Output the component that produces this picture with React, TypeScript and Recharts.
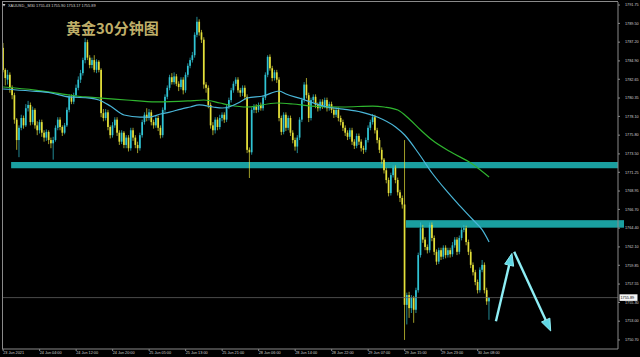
import React from 'react';
import { ComposedChart, Bar, Line, XAxis, YAxis, ReferenceArea, ReferenceLine } from 'recharts';

const symbol = 'XAUUSD,_M30';
const title = '黄金30分钟图';

const xLabels = ['23 Jun 2021', '24 Jun 04:00', '24 Jun 12:00', '24 Jun 20:00', '25 Jun 05:00', '25 Jun 13:00', '25 Jun 21:00', '28 Jun 06:00', '28 Jun 14:00', '28 Jun 22:00', '29 Jun 07:00', '29 Jun 15:00', '29 Jun 23:00', '30 Jun 08:00'];
const xLabelIdx = [0, 16, 32, 48, 64, 80, 96, 112, 128, 144, 160, 176, 192, 208];
const yTicks = [1791.75, 1789.5, 1787.2, 1784.9, 1782.65, 1780.35, 1778.1, 1775.8, 1773.5, 1771.25, 1768.95, 1766.7, 1764.4, 1762.1, 1759.85, 1757.55, 1755.3, 1753.0, 1750.7];
const TOTAL_SLOTS = 270;

const opens = [
  1786.5,1783.8,1782.6,1783.2,1781.6,1780.7,1777.7,1775.2,1776.7,1777.9,
  1777.0,1779.1,1779.5,1777.4,1778.9,1777.0,1776.4,1777.4,1776.1,1775.5,
  1776.2,1775.2,1774.8,1775.2,1776.7,1777.7,1776.8,1776.1,1777.0,1778.9,
  1780.5,1779.9,1780.7,1781.6,1782.6,1783.4,1785.0,1787.2,1785.3,1784.4,
  1785.0,1783.8,1784.8,1783.8,1778.5,1777.9,1778.6,1776.8,1775.8,1777.0,
  1777.7,1776.1,1775.0,1776.1,1774.6,1775.5,1774.2,1776.4,1775.5,1774.6,
  1774.2,1775.8,1777.4,1778.3,1777.9,1778.6,1777.4,1777.0,1777.9,1776.7,
  1775.8,1778.9,1780.5,1781.6,1782.9,1782.3,1783.0,1782.1,1781.7,1782.6,
  1781.3,1783.2,1784.3,1785.0,1785.6,1788.1,1789.7,1788.4,1787.5,1782.0,
  1781.6,1779.5,1777.0,1776.4,1777.7,1776.8,1777.9,1778.3,1777.7,1779.3,
  1780.1,1781.3,1782.1,1782.6,1781.3,1781.0,1781.6,1780.5,1774.0,1773.7,
  1778.9,1779.3,1778.9,1779.5,1779.1,1780.4,1783.2,1785.4,1784.0,1782.8,
  1783.5,1782.6,1777.9,1776.2,1778.3,1776.7,1777.9,1776.1,1775.2,1774.4,
  1775.5,1777.7,1780.1,1782.0,1780.7,1777.9,1780.1,1780.5,1779.5,1779.1,
  1779.9,1779.4,1780.1,1779.1,1779.6,1778.9,1778.3,1778.9,1777.9,1777.4,
  1776.7,1776.1,1775.6,1776.4,1775.0,1774.5,1775.7,1775.0,1774.2,1774.0,
  1775.2,1776.7,1777.4,1778.0,1776.4,1775.2,1774.0,1772.8,1771.5,1770.3,
  1768.7,1770.9,1771.8,1770.3,1768.8,1768.1,1767.3,1755.0,1756.2,1754.6,
  1755.9,1754.4,1756.8,1761.1,1764.4,1763.0,1762.1,1761.7,1764.8,1763.2,
  1761.5,1760.3,1761.7,1760.9,1762.0,1761.1,1761.7,1761.2,1762.3,1763.0,
  1761.5,1763.2,1764.2,1764.4,1762.7,1761.5,1759.9,1759.0,1757.8,1756.8,
  1759.3,1759.9,1756.8,1755.43,
];
const highs = [
  1787.1,1784.0,1783.8,1783.5,1781.9,1781.0,1777.9,1777.0,1778.3,1778.2,
  1779.6,1780.0,1779.8,1779.3,1779.1,1777.5,1777.7,1777.7,1776.4,1776.5,
  1776.4,1775.5,1775.6,1777.0,1778.0,1778.0,1777.0,1777.3,1779.2,1780.8,
  1780.8,1781.0,1782.0,1783.0,1783.8,1785.3,1787.7,1787.5,1785.6,1785.3,
  1785.6,1785.1,1785.0,1784.0,1779.0,1779.0,1778.9,1777.0,1777.4,1778.0,
  1778.0,1776.4,1776.4,1776.3,1775.8,1775.8,1776.7,1776.7,1775.8,1775.0,
  1776.1,1777.7,1778.6,1779.1,1779.0,1778.9,1777.7,1778.2,1778.2,1777.0,
  1779.2,1780.8,1781.9,1783.2,1783.4,1783.5,1783.3,1782.4,1782.9,1782.9,
  1783.5,1784.6,1785.3,1786.0,1788.4,1790.3,1790.0,1788.7,1787.8,1782.3,
  1781.9,1779.8,1777.4,1778.0,1778.0,1778.3,1778.6,1778.6,1779.6,1780.4,
  1781.6,1782.4,1782.9,1782.9,1781.6,1781.9,1781.9,1780.8,1774.3,1779.2,
  1779.6,1779.6,1779.8,1779.8,1780.7,1783.5,1785.6,1785.7,1784.3,1783.8,
  1783.8,1782.9,1778.2,1778.6,1778.6,1778.2,1778.2,1776.4,1775.5,1775.8,
  1778.0,1780.4,1782.3,1782.8,1781.0,1780.4,1780.8,1780.8,1779.8,1780.2,
  1780.2,1780.4,1780.4,1779.9,1779.9,1779.2,1779.2,1779.2,1778.2,1777.7,
  1777.0,1776.4,1776.7,1776.7,1775.3,1776.0,1776.0,1775.3,1774.5,1775.5,
  1777.0,1777.7,1778.4,1778.3,1776.7,1775.5,1774.3,1773.0,1771.8,1770.6,
  1771.2,1772.1,1772.1,1770.6,1769.1,1768.4,1775.2,1756.5,1756.6,1756.2,
  1756.1,1757.1,1761.4,1765.1,1764.8,1763.3,1762.4,1765.1,1765.1,1763.5,
  1761.8,1762.0,1762.0,1762.3,1762.3,1762.0,1762.0,1762.7,1763.3,1763.3,
  1763.5,1764.5,1764.8,1764.7,1763.0,1761.8,1760.2,1759.3,1758.1,1759.6,
  1760.5,1760.2,1757.1,1755.90,
];
const lows = [
  1783.5,1781.9,1782.0,1781.0,1780.2,1777.2,1774.0,1773.1,1776.4,1776.6,
  1776.8,1778.7,1777.0,1777.1,1776.6,1775.8,1776.0,1775.6,1775.0,1775.1,
  1774.7,1774.2,1772.8,1775.0,1776.4,1776.4,1775.7,1775.9,1776.8,1778.6,
  1779.6,1779.6,1780.4,1781.3,1782.2,1783.1,1784.6,1785.0,1784.0,1784.0,
  1783.5,1783.4,1783.5,1778.0,1777.5,1777.6,1776.4,1775.4,1775.5,1776.7,
  1775.7,1774.6,1774.7,1774.2,1774.2,1773.8,1773.9,1775.1,1774.2,1773.6,
  1773.9,1775.5,1777.1,1777.5,1777.6,1777.0,1776.6,1776.7,1776.3,1775.4,
  1775.5,1778.6,1780.2,1781.3,1782.0,1782.0,1781.8,1781.2,1781.4,1780.8,
  1781.0,1782.9,1784.0,1784.7,1785.3,1787.8,1788.0,1787.1,1781.5,1781.0,
  1779.1,1776.6,1775.8,1776.0,1776.4,1776.5,1777.5,1777.3,1777.4,1779.0,
  1779.8,1781.0,1781.8,1781.0,1780.5,1780.6,1780.1,1773.6,1770.55,1773.4,
  1778.5,1778.5,1778.6,1778.8,1778.8,1780.1,1782.9,1783.7,1782.4,1782.5,
  1782.2,1777.5,1775.8,1775.9,1776.3,1776.4,1775.7,1774.8,1773.9,1773.6,
  1775.2,1777.4,1779.8,1780.3,1777.4,1777.6,1779.7,1779.1,1778.7,1778.8,
  1779.0,1779.1,1778.7,1778.8,1778.5,1777.9,1778.0,1777.5,1777.0,1776.3,
  1775.7,1775.2,1775.3,1774.6,1774.1,1774.2,1774.6,1773.8,1773.5,1773.7,
  1774.9,1776.4,1777.1,1776.0,1774.8,1773.6,1772.3,1771.1,1769.9,1768.3,
  1768.4,1770.6,1769.9,1768.4,1767.6,1766.8,1750.7,1752.6,1753.4,1754.0,
  1752.8,1754.0,1756.5,1760.8,1762.6,1761.7,1761.3,1761.4,1762.8,1761.1,
  1759.9,1760.0,1760.5,1760.6,1760.7,1760.8,1760.8,1760.9,1762.0,1761.1,
  1761.2,1762.9,1763.9,1762.3,1761.1,1759.5,1758.6,1757.4,1756.4,1756.5,
  1759.0,1756.4,1755.0,1753.17,
];
const closes = [
  1783.8,1782.8,1783.2,1781.6,1780.7,1777.7,1775.2,1776.7,1777.9,1777.0,
  1779.1,1779.5,1777.4,1778.9,1777.0,1776.4,1777.4,1776.1,1775.5,1776.2,
  1775.2,1774.8,1775.2,1776.7,1777.7,1776.8,1776.1,1777.0,1778.9,1780.5,
  1779.9,1780.7,1781.6,1782.6,1783.4,1785.0,1787.2,1785.3,1784.4,1785.0,
  1783.8,1784.8,1783.8,1778.5,1777.9,1778.6,1776.8,1775.8,1777.0,1777.7,
  1776.1,1775.0,1776.1,1774.6,1775.5,1774.2,1776.4,1775.5,1774.6,1774.2,
  1775.8,1777.4,1778.3,1777.9,1778.6,1777.4,1777.0,1777.9,1776.7,1775.8,
  1778.9,1780.5,1781.6,1782.9,1782.3,1783.0,1782.1,1781.7,1782.6,1781.3,
  1783.2,1784.3,1785.0,1785.6,1788.1,1789.7,1788.4,1787.5,1782.0,1781.6,
  1779.5,1777.0,1776.4,1777.7,1776.8,1777.9,1778.3,1777.7,1779.3,1780.1,
  1781.3,1782.1,1782.6,1781.3,1781.0,1781.6,1780.5,1774.0,1773.7,1778.9,
  1779.3,1778.9,1779.5,1779.1,1780.4,1783.2,1785.4,1784.0,1782.8,1783.5,
  1782.6,1777.9,1776.2,1778.3,1776.7,1777.9,1776.1,1775.2,1774.4,1775.5,
  1777.7,1780.1,1782.0,1780.7,1777.9,1780.1,1780.5,1779.5,1779.1,1779.9,
  1779.4,1780.1,1779.1,1779.6,1778.9,1778.3,1778.9,1777.9,1777.4,1776.7,
  1776.1,1775.6,1776.4,1775.0,1774.5,1775.7,1775.0,1774.2,1774.0,1775.2,
  1776.7,1777.4,1778.0,1776.4,1775.2,1774.0,1772.8,1771.5,1770.3,1768.7,
  1770.9,1771.8,1770.3,1768.8,1768.1,1767.3,1755.0,1756.2,1754.6,1755.9,
  1754.4,1756.8,1761.1,1764.4,1763.0,1762.1,1761.7,1764.8,1763.2,1761.5,
  1760.3,1761.7,1760.9,1762.0,1761.1,1761.7,1761.2,1762.3,1763.0,1761.5,
  1763.2,1764.2,1764.4,1762.7,1761.5,1759.9,1759.0,1757.8,1756.8,1759.3,
  1759.9,1756.8,1755.43,1755.89,
];

const maFastIdx = [0,12,21,29,38,42,47,53,60,64,69,73,78,82,86,92,96,99,103,107,114,121,124,131,136,142,149,157,164,172,176,182,188,194,199,206,210,213];
const maFastVal = [1781.46,1781.21,1780.97,1780.48,1780.35,1780.11,1779.37,1778.27,1778.02,1778.02,1778.39,1778.63,1779.0,1779.25,1779.5,1779.25,1779.13,1779.25,1779.74,1780.35,1780.6,1781.21,1780.84,1780.23,1779.74,1779.25,1779.0,1778.63,1778.02,1776.8,1775.82,1773.61,1771.16,1769.08,1767.49,1765.4,1764.18,1762.71];
const maSlowIdx = [0,14,29,36,43,54,67,81,88,95,99,107,120,127,135,149,162,167,173,178,183,188,197,205,213];
const maSlowVal = [1781.7,1781.33,1780.72,1780.48,1780.35,1780.11,1779.87,1779.99,1780.11,1779.74,1779.5,1779.25,1779.74,1779.62,1779.37,1779.25,1779.37,1779.25,1778.88,1777.78,1776.43,1775.2,1773.61,1772.39,1770.67];

// horizontal zones
const zoneA = { from: 4, lo: 1771.74, hi: 1772.51 };
const zoneB = { from: 177, lo: 1764.46, hi: 1765.38 };

// forecast arrows
const arrowUp = { i1: 216, p1: 1753.0, i2: 223, p2: 1761.3 };
const arrowDown = { i1: 224, p1: 1761.5, i2: 240, p2: 1751.8 };

const lastPrice = closes[closes.length - 1];

const YELLOW = '#e4e03a';
const AQUA = '#30c4d4';
const FAST = '#4ab6d8';
const SLOW = '#2fb52f';
const ZONE = '#1a9fa0';
const ARROW = '#8eeef5';
const AXIS = '#8a8a8a';
const TEXT = '#cfcfcf';
const FONT = '"Liberation Sans", Arial, sans-serif';

const rows = Array.from({ length: TOTAL_SLOTS }, (_, i) => {
  const r: any = { i };
  if (i < closes.length) {
    r.range = [lows[i], highs[i]];
    r.o = opens[i];
    r.h = highs[i];
    r.l = lows[i];
    r.c = closes[i];
  }
  const fi = maFastIdx.indexOf(i);
  if (fi >= 0) r.fast = maFastVal[fi];
  const si = maSlowIdx.indexOf(i);
  if (si >= 0) r.slow = maSlowVal[si];
  return r;
});

const Candle = (props: any) => {
  const { x, y, width, height, payload } = props;
  if (!payload || payload.c == null) return null;
  const { o, h, l, c } = payload;
  const top = height >= 0 ? y : y + height;
  const hh = Math.abs(height);
  const k = h - l > 0 ? hh / (h - l) : 0;
  const bTop = top + (h - Math.max(o, c)) * k;
  const bBot = top + (h - Math.min(o, c)) * k;
  const color = c >= o ? AQUA : YELLOW;
  const cx = x + width / 2;
  const bw = Math.max(1, width * 0.85);
  return (
    <g>
      <line x1={cx} x2={cx} y1={top} y2={top + hh} stroke={color} strokeWidth={0.7} />
      <rect x={cx - bw / 2} y={bTop} width={bw} height={Math.max(0.7, bBot - bTop)} fill={color} />
    </g>
  );
};

const ArrowShape = (p: any) => {
  const { x1, y1, x2, y2 } = p;
  if ([x1, y1, x2, y2].some((v) => v == null || isNaN(v))) return null;
  const ang = Math.atan2(y2 - y1, x2 - x1);
  const L = 12;
  const W = 4.6;
  const bx = x2 - L * Math.cos(ang);
  const by = y2 - L * Math.sin(ang);
  const px = -Math.sin(ang) * W;
  const py = Math.cos(ang) * W;
  return (
    <g>
      <line x1={x1} y1={y1} x2={bx} y2={by} stroke={ARROW} strokeWidth={2.4} />
      <polygon points={`${x2},${y2} ${bx + px},${by + py} ${bx - px},${by - py}`} fill="#5fd6e4" stroke={ARROW} strokeWidth={1} />
    </g>
  );
};

const XTick = (props: any) => {
  const { x, y, payload } = props;
  const k = xLabelIdx.indexOf(payload.value);
  return (
    <text x={x} y={y} dy={3.3} fontSize={3.8} fill={TEXT} textAnchor="start" fontFamily={FONT}>
      {k >= 0 ? xLabels[k] : ''}
    </text>
  );
};

const YTick = (props: any) => {
  const { x, y, payload } = props;
  return (
    <text x={x} y={y} dy={1.3} fontSize={3.8} fill={TEXT} textAnchor="start" fontFamily={FONT}>
      {Number(payload.value).toFixed(2)}
    </text>
  );
};

const PriceLabel = (props: any) => {
  const vb = props.viewBox || {};
  const xr = (vb.x || 0) + (vb.width || 0);
  const yy = vb.y || 0;
  return (
    <g>
      <rect x={xr + 1.5} y={yy - 3.3} width={18} height={6.6} fill="#f4f4f4" />
      <text x={xr + 2.5} y={yy + 1.4} fontSize={3.8} fill="#000" fontFamily={FONT}>
        {lastPrice.toFixed(2)}
      </text>
    </g>
  );
};

export default function App() {
  return (
    <div style={{ position: 'absolute', left: 0, top: 0, width: 640, height: 357, background: '#000', overflow: 'hidden' }}>
      <ComposedChart
        width={640}
        height={357}
        data={rows}
        margin={{ top: 2, right: 0, bottom: 0, left: 2 }}
        barCategoryGap={0}
        barGap={0}
      >
        <XAxis
          dataKey="i"
          type="category"
          ticks={xLabelIdx}
          interval={0}
          tick={<XTick />}
          tickSize={2}
          tickMargin={0}
          height={8}
          axisLine={{ stroke: AXIS }}
          tickLine={{ stroke: AXIS }}
        />
        <YAxis
          orientation="right"
          type="number"
          domain={[1749.59, 1792.12]}
          allowDataOverflow
          ticks={yTicks}
          interval={0}
          width={22}
          tick={<YTick />}
          tickSize={2}
          tickMargin={5}
          axisLine={{ stroke: AXIS }}
          tickLine={{ stroke: AXIS }}
        />
        <ReferenceLine y={lastPrice} stroke="#5e5e5e" strokeWidth={0.8} label={<PriceLabel />} />
        <Bar dataKey="range" shape={Candle} isAnimationActive={false} />
        <Line dataKey="slow" type="monotone" connectNulls dot={false} stroke={SLOW} strokeWidth={1.2} isAnimationActive={false} />
        <Line dataKey="fast" type="monotone" connectNulls dot={false} stroke={FAST} strokeWidth={1.2} isAnimationActive={false} />
        <ReferenceArea x1={zoneA.from} x2={TOTAL_SLOTS - 1} y1={zoneA.lo} y2={zoneA.hi} fill={ZONE} fillOpacity={1} stroke="none" />
        <ReferenceArea
          x1={zoneB.from}
          x2={TOTAL_SLOTS - 1}
          y1={zoneB.lo}
          y2={zoneB.hi}
          ifOverflow="visible"
          shape={(p: any) => <rect x={p.x} y={p.y} width={p.width + 6} height={p.height} fill={ZONE} />}
        />
        <ReferenceLine
          segment={[{ x: arrowUp.i1, y: arrowUp.p1 }, { x: arrowUp.i2, y: arrowUp.p2 }]}
          shape={ArrowShape}
        />
        <ReferenceLine
          segment={[{ x: arrowDown.i1, y: arrowDown.p1 }, { x: arrowDown.i2, y: arrowDown.p2 }]}
          shape={ArrowShape}
        />
      </ComposedChart>
      <svg width={640} height={357} style={{ position: 'absolute', left: 0, top: 0, pointerEvents: 'none' }}>
        <line x1={2} y1={1.5} x2={618} y2={1.5} stroke={AXIS} strokeWidth={1} />
        <line x1={2.5} y1={1.5} x2={2.5} y2={349} stroke={AXIS} strokeWidth={1} />
        <polygon points="2.5,4 5.5,4 4,6.5" fill="#cccccc" />
        <text x={8} y={6.6} fontSize={3.9} fill={TEXT} fontFamily={FONT}>
          {`${symbol}  ${opens[opens.length - 1].toFixed(2)} ${highs[highs.length - 1].toFixed(2)} ${lows[lows.length - 1].toFixed(2)} ${closes[closes.length - 1].toFixed(2)}`}
        </text>
        <text x={66} y={33.5} fontSize={15} fontWeight={700} fill="#bfae68" fontFamily='"Noto Sans CJK SC", sans-serif'>
          {title}
        </text>
      </svg>
    </div>
  );
}
